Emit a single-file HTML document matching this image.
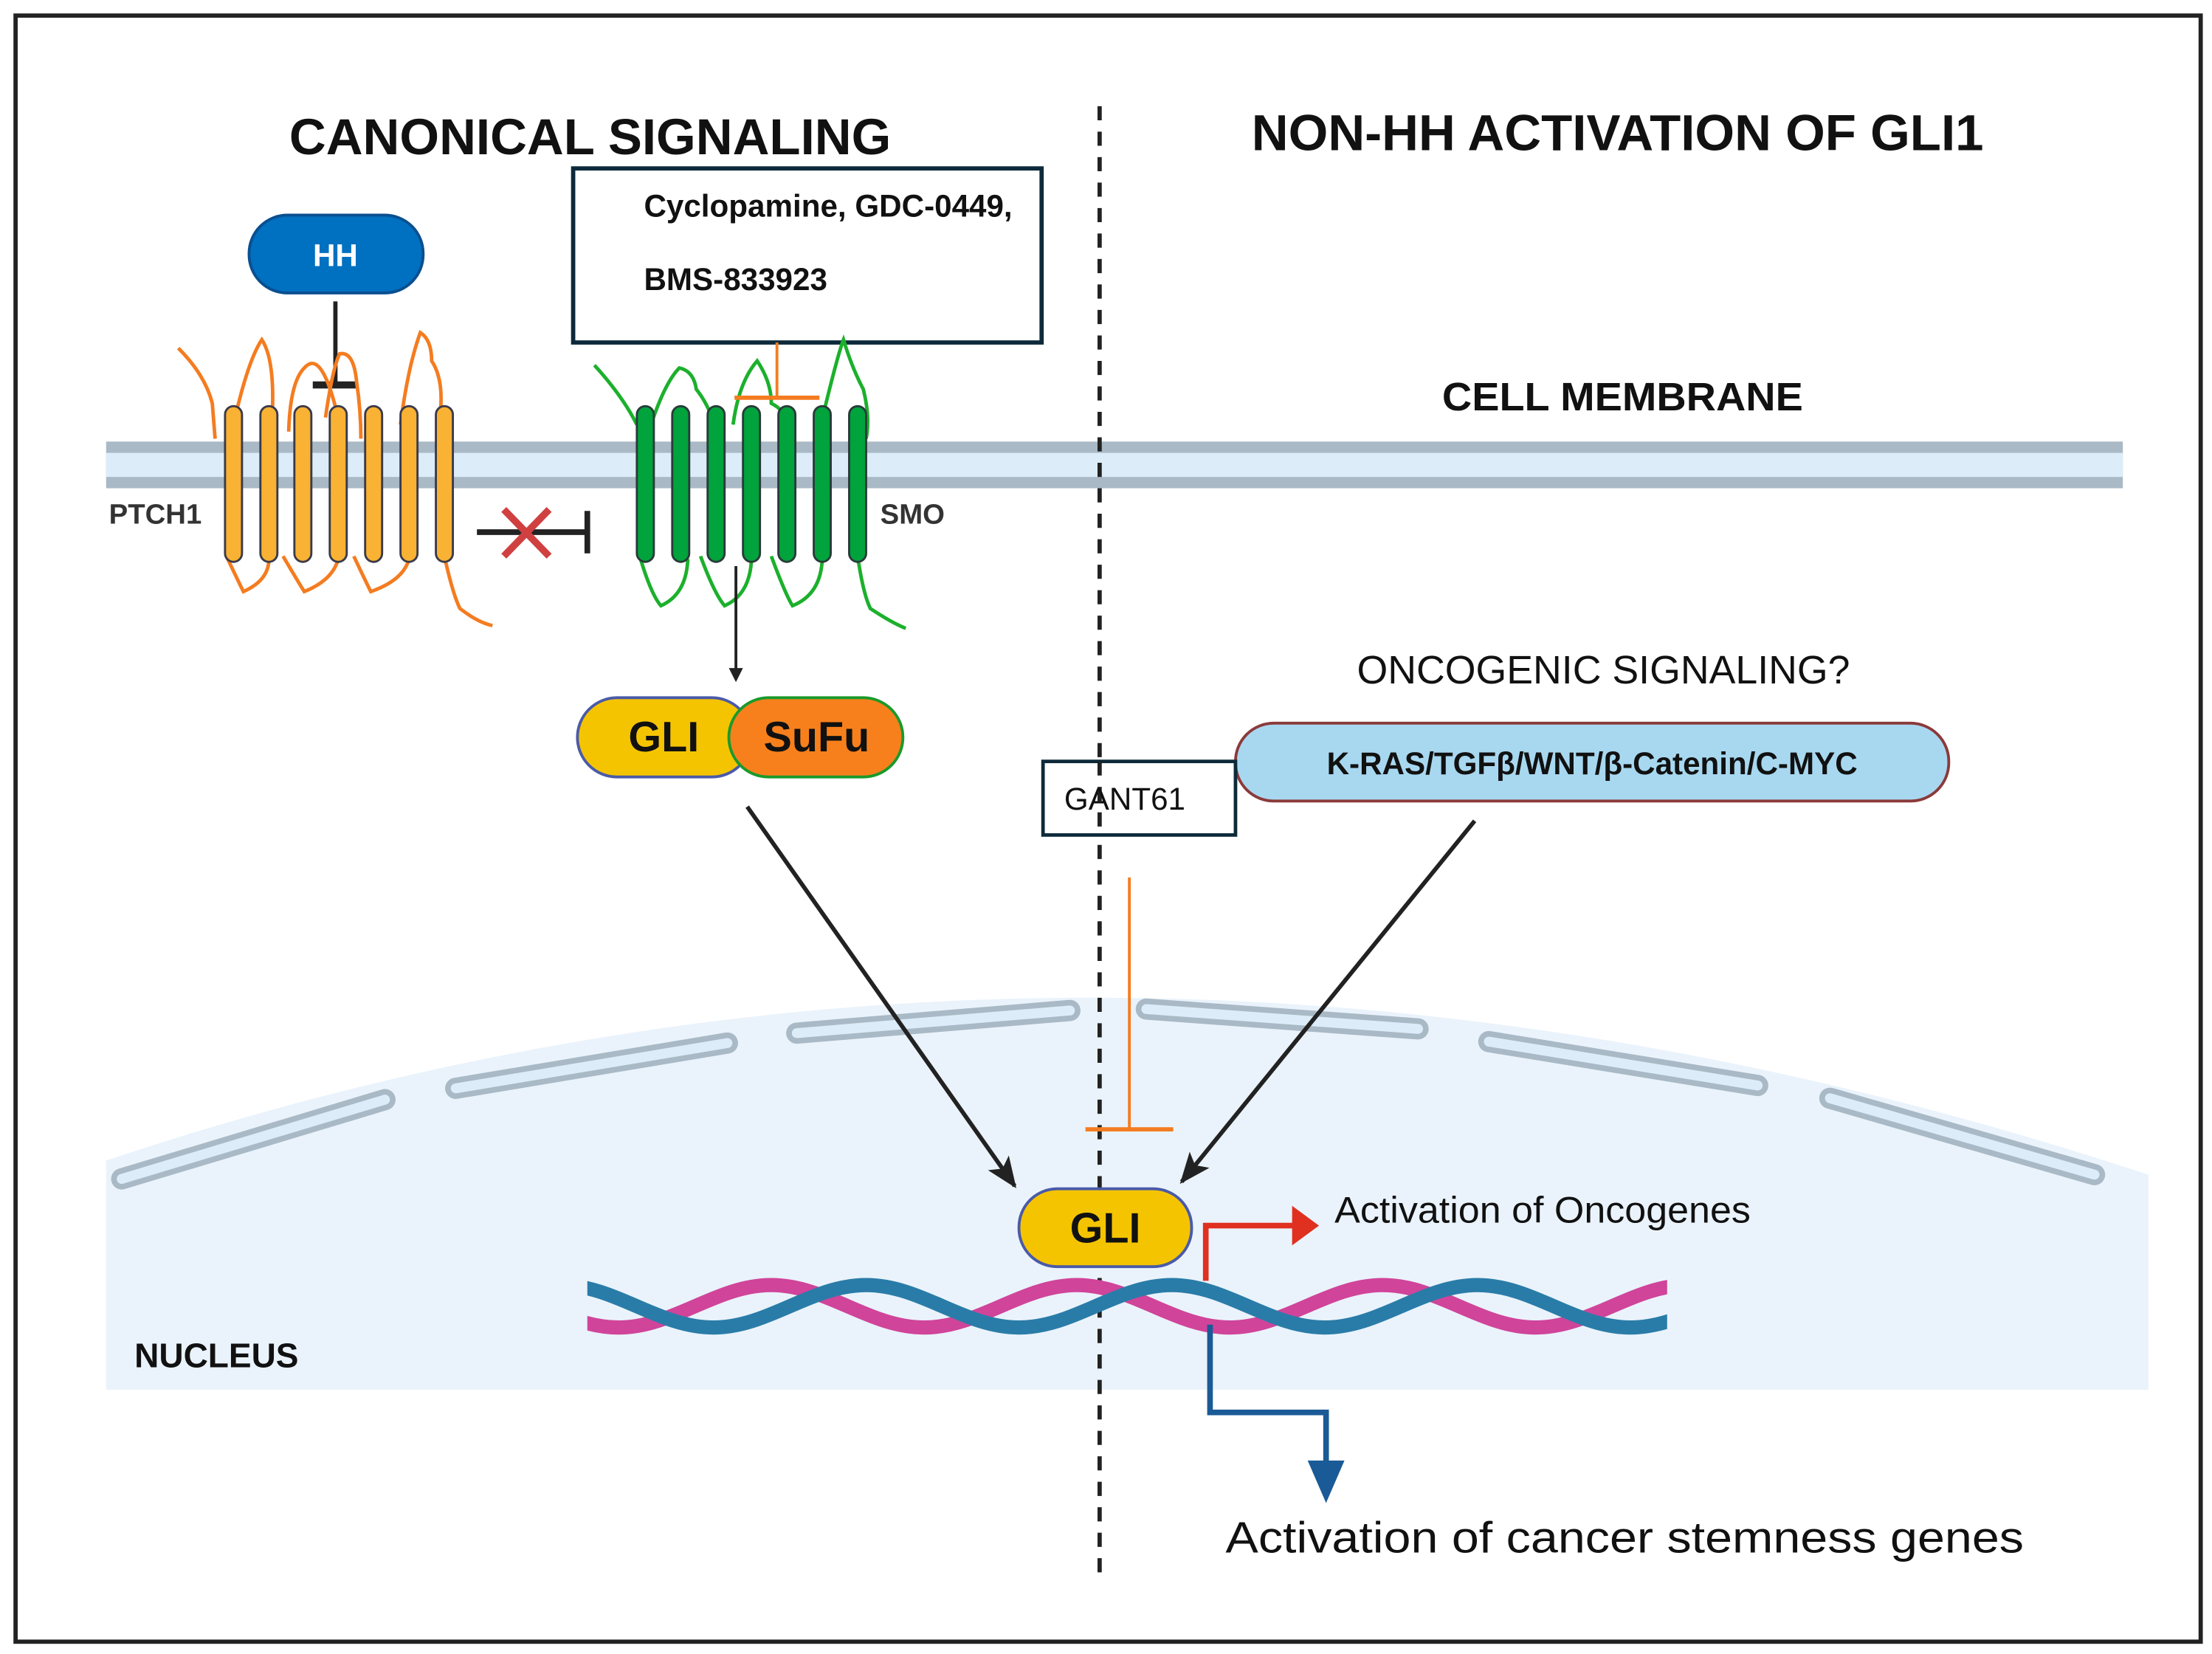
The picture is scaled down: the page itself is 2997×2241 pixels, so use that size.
<!DOCTYPE html>
<html><head><meta charset="utf-8"><style>
html,body{margin:0;padding:0;background:#fff;}
svg{display:block;}
text{font-family:"Liberation Sans",sans-serif;}
</style></head><body>
<svg width="2997" height="2241" viewBox="0 0 1563 1168.7" preserveAspectRatio="none" xmlns="http://www.w3.org/2000/svg">
<defs>
<marker id="ah" markerWidth="10" markerHeight="10" refX="8" refY="5" orient="auto" markerUnits="userSpaceOnUse"><path d="M0,0 L10,5 L0,10 Z" fill="#222"/></marker>
<marker id="ahb" markerWidth="22" markerHeight="22" refX="20" refY="11" orient="auto" markerUnits="userSpaceOnUse"><path d="M0,2 L22,11 L0,20 L5,11 Z" fill="#222"/></marker>
<clipPath id="dc"><rect x="415" y="890" width="763" height="70"/></clipPath>
</defs>
<rect x="0" y="0" width="1563" height="1169" fill="#fff"/>
<rect x="11" y="11" width="1544" height="1149" fill="none" stroke="#222" stroke-width="3"/>

<path d="M75,820 Q777,585 1518,830 L1518,982 L75,982 Z" fill="#eaf3fb"/>
<g stroke-linecap="round" fill="none">
<g stroke="#a9b9c6" stroke-width="15">
<line x1="86" y1="833" x2="272" y2="777"/><line x1="322" y1="769" x2="514" y2="737"/><line x1="563" y1="730" x2="756" y2="714"/><line x1="810" y1="713" x2="1002" y2="727"/><line x1="1052" y1="736" x2="1242" y2="767"/><line x1="1293" y1="776" x2="1480" y2="830"/>
</g>
<g stroke="#dcedf9" stroke-width="7">
<line x1="86" y1="833" x2="272" y2="777"/><line x1="322" y1="769" x2="514" y2="737"/><line x1="563" y1="730" x2="756" y2="714"/><line x1="810" y1="713" x2="1002" y2="727"/><line x1="1052" y1="736" x2="1242" y2="767"/><line x1="1293" y1="776" x2="1480" y2="830"/>
</g></g>

<rect x="75" y="312" width="1425" height="33" fill="#a9b9c6"/>
<rect x="75" y="320" width="1425" height="17" fill="#dcedf9"/>

<text x="417" y="109" font-size="36" font-weight="bold" text-anchor="middle" fill="#111">CANONICAL SIGNALING</text>
<text x="1143" y="106" font-size="36" font-weight="bold" text-anchor="middle" fill="#111">NON-HH ACTIVATION OF GLI1</text>
<text x="1019" y="290" font-size="28" font-weight="bold" fill="#111" textLength="255" lengthAdjust="spacingAndGlyphs">CELL MEMBRANE</text>

<line x1="777" y1="75" x2="777" y2="1118" stroke="#222" stroke-width="3" stroke-dasharray="10,8"/>

<rect x="405" y="119" width="331" height="123" fill="#fff" stroke="#0d2a3a" stroke-width="3"/>
<text x="455" y="153" font-size="22" font-weight="bold" fill="#111">Cyclopamine, GDC-0449,</text>
<text x="455" y="205" font-size="22" font-weight="bold" fill="#111">BMS-833923</text>

<rect x="176" y="152" width="123" height="55" rx="27" fill="#0070c0" stroke="#0a4f90" stroke-width="2"/>
<text x="237" y="188" font-size="22" font-weight="bold" fill="#fff" text-anchor="middle">HH</text>
<line x1="237" y1="213" x2="237" y2="270" stroke="#222" stroke-width="3"/>
<line x1="221" y1="272" x2="253" y2="272" stroke="#222" stroke-width="5"/>

<g fill="none" stroke="#f47c20" stroke-width="2.5">
<path d="M126,246 Q145,265 150,285 L152,310"/>
<path d="M165,300 Q175,255 185,240 Q195,255 192,300"/>
<path d="M204,305 Q205,270 215,260 Q228,245 240,300 M230,295 Q235,260 240,250 Q250,248 252,270 Q255,290 255,310"/>
<path d="M283,300 Q288,260 297,235 Q305,240 305,255 Q315,270 310,300"/>
<path d="M160,393 Q168,410 172,418 Q190,410 190,395"/>
<path d="M200,393 Q210,410 215,418 Q235,410 239,395"/>
<path d="M250,393 Q258,410 262,418 Q285,410 289,395"/>
<path d="M314,393 Q320,420 325,430 Q338,440 348,442"/>
</g>
<g fill="#f9b233" stroke="#3a3a4a" stroke-width="1.5">
<rect x="159" y="287" width="12" height="110" rx="6"/><rect x="184" y="287" width="12" height="110" rx="6"/><rect x="208" y="287" width="12" height="110" rx="6"/><rect x="233" y="287" width="12" height="110" rx="6"/><rect x="258" y="287" width="12" height="110" rx="6"/><rect x="283" y="287" width="12" height="110" rx="6"/><rect x="308" y="287" width="12" height="110" rx="6"/>
</g>
<text x="77" y="370" font-size="20" font-weight="bold" fill="#333">PTCH1</text>

<g fill="none" stroke="#1cb02c" stroke-width="2.5">
<path d="M420,258 Q440,280 450,300"/>
<path d="M460,300 Q470,270 480,260 Q490,262 492,275 Q500,285 505,300"/>
<path d="M518,300 Q522,270 535,255 Q545,270 545,285 Q555,290 557,300"/>
<path d="M580,300 Q592,250 596,240 Q602,260 610,275 Q615,295 612,310"/>
<path d="M452,393 Q460,420 467,428 Q485,420 486,395"/>
<path d="M495,393 Q505,420 512,428 Q530,420 531,395"/>
<path d="M545,393 Q555,420 560,428 Q580,420 581,395"/>
<path d="M606,393 Q610,420 615,430 Q630,440 640,444"/>
</g>
<g fill="#00a33c" stroke="#2a3a3a" stroke-width="1.5">
<rect x="450" y="287" width="12" height="110" rx="6"/><rect x="475" y="287" width="12" height="110" rx="6"/><rect x="500" y="287" width="12" height="110" rx="6"/><rect x="525" y="287" width="12" height="110" rx="6"/><rect x="550" y="287" width="12" height="110" rx="6"/><rect x="575" y="287" width="12" height="110" rx="6"/><rect x="600" y="287" width="12" height="110" rx="6"/>
</g>
<text x="622" y="370" font-size="20" font-weight="bold" fill="#333">SMO</text>

<line x1="549" y1="242" x2="549" y2="280" stroke="#f47c20" stroke-width="2"/>
<line x1="519" y1="281" x2="579" y2="281" stroke="#f47c20" stroke-width="3"/>

<line x1="337" y1="376" x2="415" y2="376" stroke="#222" stroke-width="4"/>
<line x1="415" y1="361" x2="415" y2="391" stroke="#222" stroke-width="4"/>
<line x1="356" y1="360" x2="388" y2="393" stroke="#d04040" stroke-width="5"/>
<line x1="388" y1="360" x2="356" y2="393" stroke="#d04040" stroke-width="5"/>

<line x1="520" y1="400" x2="520" y2="480" stroke="#222" stroke-width="2" marker-end="url(#ah)"/>

<rect x="408" y="493" width="123" height="56" rx="28" fill="#f5c400" stroke="#4a5aa8" stroke-width="2"/>
<rect x="515" y="493" width="123" height="56" rx="28" fill="#f7801c" stroke="#1a9a2a" stroke-width="2"/>
<text x="469" y="531" font-size="30" font-weight="bold" text-anchor="middle" fill="#111">GLI</text>
<text x="577" y="531" font-size="30" font-weight="bold" text-anchor="middle" fill="#111">SuFu</text>

<line x1="528" y1="570" x2="717" y2="838" stroke="#222" stroke-width="3" marker-end="url(#ahb)"/>
<line x1="1042" y1="580" x2="835" y2="835" stroke="#222" stroke-width="3" marker-end="url(#ahb)"/>

<text x="1133" y="483" font-size="28" text-anchor="middle" fill="#111">ONCOGENIC SIGNALING?</text>
<rect x="873" y="511" width="504" height="55" rx="27" fill="#a8d8f0" stroke="#8b3a3a" stroke-width="2"/>
<text x="1125" y="547" font-size="22" font-weight="bold" text-anchor="middle" fill="#111">K-RAS/TGFβ/WNT/β-Catenin/C-MYC</text>

<rect x="737" y="538" width="136" height="52" fill="#fff" stroke="#0d2a3a" stroke-width="2.5"/>
<line x1="777" y1="538" x2="777" y2="590" stroke="#222" stroke-width="3" stroke-dasharray="10,8"/>
<text x="752" y="572" font-size="22" fill="#111">GANT61</text>
<line x1="798" y1="620" x2="798" y2="797" stroke="#f47c20" stroke-width="2"/>
<line x1="767" y1="798" x2="829" y2="798" stroke="#f47c20" stroke-width="3"/>

<g clip-path="url(#dc)" fill="none" stroke-width="10">
<path stroke="#d0449a" d="M329,908 C368,908 398,938 437,938 S506,908 545,908 S614,938 653,938 S722,908 761,908 S830,938 869,938 S938,908 977,908 S1046,938 1085,938 S1154,908 1193,908"/>
<path stroke="#2a7ca8" d="M288,938 C327,938 357,908 396,908 S465,938 504,938 S573,908 612,908 S681,938 720,938 S789,908 828,908 S897,938 936,938 S1005,908 1044,908 S1113,938 1152,938 S1221,908 1260,908"/>
</g>

<rect x="720" y="840" width="122" height="55" rx="27" fill="#f5c400" stroke="#4a5aa8" stroke-width="2"/>
<text x="781" y="878" font-size="30" font-weight="bold" text-anchor="middle" fill="#111">GLI</text>

<path d="M852,905 L852,866 L915,866" fill="none" stroke="#e03020" stroke-width="4"/>
<path d="M913,852 L932,866 L913,880 Z" fill="#e03020"/>
<text x="943" y="864" font-size="26" fill="#111" textLength="294" lengthAdjust="spacingAndGlyphs">Activation of Oncogenes</text>

<path d="M855,936 L855,998 L937,998 L937,1038" fill="none" stroke="#1a5a96" stroke-width="4"/>
<path d="M924,1032 L950,1032 L937,1062 Z" fill="#1a5a96"/>
<text x="866" y="1097" font-size="31" fill="#111" textLength="564" lengthAdjust="spacingAndGlyphs">Activation of cancer stemness genes</text>

<text x="95" y="966" font-size="24" font-weight="bold" fill="#111">NUCLEUS</text>
</svg>
</body></html>
